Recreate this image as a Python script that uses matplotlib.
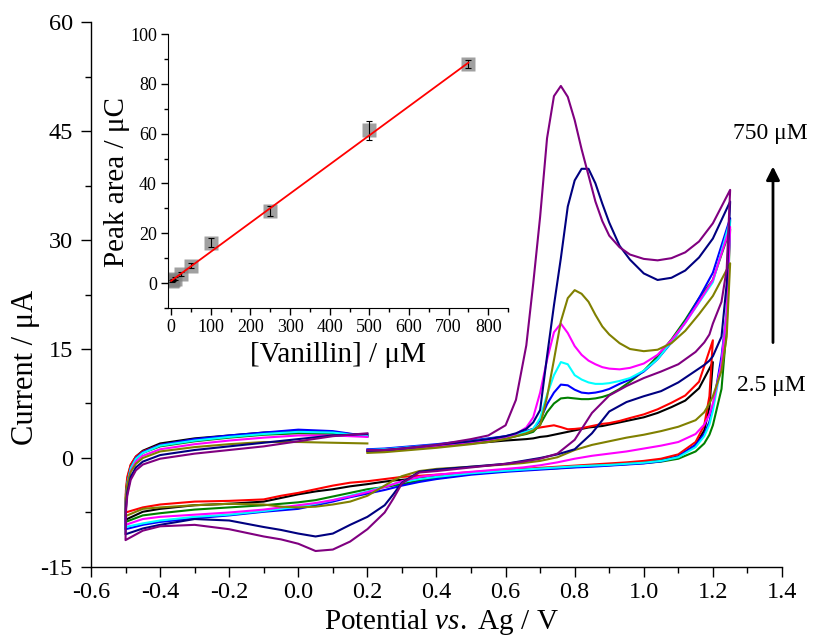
import matplotlib
matplotlib.use("Agg")
import matplotlib.pyplot as plt
import numpy as np
from matplotlib.ticker import MultipleLocator, FormatStrFormatter

plt.rcParams["font.family"] = ["Liberation Serif", "DejaVu Serif"]
plt.rcParams["mathtext.fontset"] = "custom"
plt.rcParams["mathtext.rm"] = "Liberation Serif"
plt.rcParams["mathtext.it"] = "Liberation Serif:italic"
plt.rcParams["axes.unicode_minus"] = False

# ---- CV data (potential grids shared, currents per concentration) ----
nan = np.nan
# forward scan after the break at 0.2 V, up to the vertex
E_fwd = [0.2, 0.25, 0.3, 0.4, 0.5, 0.55, 0.6, 0.63, 0.66, 0.68, 0.70, 0.72, 0.74,
         0.76, 0.78, 0.80, 0.82, 0.84, 0.86, 0.88, 0.90, 0.93, 0.96, 1.0, 1.04,
         1.08, 1.12, 1.16, 1.2, 1.25]
# reverse scan from the vertex down to -0.5 V
E_rev = [1.25, 1.24, 1.225, 1.2, 1.19, 1.175, 1.15, 1.1, 1.05, 1.0, 0.95, 0.9,
         0.85, 0.8, 0.75, 0.7, 0.65, 0.6, 0.5, 0.4, 0.35, 0.3, 0.275, 0.25, 0.2,
         0.15, 0.1, 0.05, 0.0, -0.05, -0.1, -0.2, -0.3, -0.4, -0.45, -0.5]
# forward scan from -0.5 V up to the break at 0.2 V
E_low = [-0.499, -0.495, -0.485, -0.47, -0.45, -0.4, -0.3, -0.2, -0.1, 0.0, 0.1, 0.2]

black_fwd = [1.0, 1.1, 1.3, 1.6, 2.0, 2.2, 2.4, 2.5, 2.6, 2.7, 2.9, 3.0, 3.2, 3.4, 3.6,
             3.8, 4.0, 4.2, 4.3, 4.4, 4.6, 4.9, 5.2, 5.6, 6.2, 7.0, 7.9, 9.6, 13.2, nan]
red_fwd = [0.9, 1.0, 1.2, 1.6, 2.0, 2.3, 2.7, 3.2, 3.7, 4.0, 4.2, 4.35, 4.5, 4.25, 3.95,
           4.0, 4.1, 4.3, 4.5, 4.7, 4.8, 5.1, 5.5, 6.0, 6.7, 7.6, 8.6, 10.5, 16.2, nan]
green_fwd = [1.0, 1.1, 1.3, 1.7, 2.1, 2.4, 2.7, 3.0, 3.3, 3.6, 4.6, 6.3, 7.5, 8.2, 8.3,
             8.2, 8.1, 8.1, 8.2, 8.4, 8.7, 9.5, 10.5, 12.0, 14.0, 16.3, 19.0, 22.0, 24.5, 31.5]
blue_fwd = [1.2, 1.3, 1.5, 1.9, 2.4, 2.7, 3.0, 3.3, 3.7, 4.0, 5.2, 7.4, 9.0, 10.1, 10.0,
            9.4, 9.0, 8.9, 9.0, 9.2, 9.5, 10.2, 10.8, 11.9, 13.6, 15.9, 18.7, 22.0, 25.5, 33.0]
cyan_fwd = [1.1, 1.2, 1.4, 1.8, 2.3, 2.6, 2.9, 3.2, 3.6, 4.0, 5.5, 8.7, 11.4, 13.2, 12.9,
            11.4, 10.8, 10.4, 10.2, 10.2, 10.3, 10.6, 11.0, 12.0, 13.6, 16.0, 18.6, 21.4, 24.2, 32.7]
magenta_fwd = [1.0, 1.1, 1.3, 1.7, 2.2, 2.5, 2.9, 3.3, 4.2, 5.6, 9.0, 13.5, 17.3, 18.5, 17.2,
               15.4, 14.2, 13.4, 12.9, 12.5, 12.3, 12.2, 12.4, 13.0, 14.2, 16.2, 18.6, 21.5, 24.5, 31.8]
olive_fwd = [0.7, 0.8, 1.0, 1.4, 1.9, 2.2, 2.6, 3.0, 3.4, 3.8, 4.5, 8.4, 13.5, 18.8, 22.0,
             23.1, 22.6, 21.5, 19.7, 18.1, 17.0, 15.8, 15.0, 14.7, 14.9, 15.8, 17.5, 19.8, 22.3, 26.8]
navy_fwd = [1.0, 1.1, 1.3, 1.8, 2.3, 2.6, 3.0, 3.4, 4.0, 4.9, 6.6, 14.0, 21.0, 27.5, 34.6,
            38.2, 39.8, 39.8, 37.8, 35.0, 32.4, 29.2, 27.3, 25.4, 24.5, 24.8, 25.8, 27.6, 30.2, 35.3]
purple_fwd = [1.1, 1.1, 1.3, 1.8, 2.6, 3.1, 4.5, 8.0, 15.5, 24.0, 33.2, 44.0, 49.8, 51.2, 49.7,
              46.5, 42.5, 38.9, 35.3, 32.6, 30.6, 29.0, 28.0, 27.4, 27.2, 27.5, 28.3, 29.8, 32.3, 36.9]

black_rev = [nan, nan, nan, nan, 7.0, 3.8, 1.8, 0.2, -0.3, -0.6, -0.8, -0.95, -1.05, -1.2,
             -1.35, -1.5, -1.65, -1.8, -2.1, -2.6, -2.8, -3.0, -3.1, -3.25, -3.6, -3.9, -4.3,
             -4.6, -5.0, -5.5, -6.0, -6.3, -6.5, -7.0, -7.4, -8.5]
red_rev = [nan, nan, nan, nan, 8.5, 4.5, 2.2, 0.5, -0.1, -0.4, -0.6, -0.75, -0.9, -1.05,
           -1.2, -1.35, -1.5, -1.65, -1.95, -2.3, -2.45, -2.6, -2.75, -2.9, -3.2, -3.4, -3.8,
           -4.3, -4.8, -5.2, -5.7, -5.9, -6.0, -6.4, -6.8, -7.5]
green_rev = [31.5, 18.0, 9.5, 4.5, 3.2, 2.0, 0.9, -0.1, -0.5, -0.7, -0.85, -1.0, -1.1, -1.25,
             -1.4, -1.5, -1.65, -1.8, -2.2, -2.8, -3.1, -3.6, -3.8, -4.0, -4.3, -4.8, -5.3,
             -5.8, -6.1, -6.3, -6.5, -6.8, -7.1, -7.6, -7.9, -8.8]
blue_rev = [33.0, 20.0, 14.0, 7.0, 5.0, 3.3, 1.8, 0.2, -0.45, -0.75, -0.9, -1.05, -1.2, -1.3,
            -1.45, -1.6, -1.75, -1.9, -2.3, -2.9, -3.3, -3.8, -4.1, -4.4, -4.9, -5.4, -6.0,
            -6.5, -7.0, -7.2, -7.4, -7.9, -8.3, -8.8, -9.2, -9.8]
cyan_rev = [32.7, 20.0, 13.0, 6.5, 4.6, 3.0, 1.5, 0.1, -0.4, -0.65, -0.8, -0.95, -1.05, -1.15,
            -1.3, -1.45, -1.6, -1.75, -2.1, -2.6, -2.9, -3.3, -3.6, -3.9, -4.6, -5.2, -5.8,
            -6.3, -6.7, -7.0, -7.3, -7.8, -8.1, -8.6, -9.0, -9.5]
magenta_rev = [31.8, 20.0, 13.0, 7.5, 6.0, 4.6, 3.3, 2.2, 1.7, 1.3, 0.9, 0.6, 0.3, -0.1,
               -0.6, -1.0, -1.3, -1.5, -1.9, -2.3, -2.6, -3.2, -3.6, -4.0, -4.7, -5.3, -5.8,
               -6.2, -6.5, -6.8, -7.1, -7.5, -7.8, -8.1, -8.4, -9.2]
olive_rev = [26.8, 16.7, 12.0, 8.5, 7.5, 6.3, 5.2, 4.3, 3.7, 3.2, 2.8, 2.3, 1.8, 1.1, 0.1,
             -0.4, -0.7, -0.9, -1.2, -1.5, -1.8, -2.5, -3.1, -3.8, -5.2, -6.0, -6.4, -6.7,
             -6.8, -6.7, -6.4, -6.3, -6.5, -6.8, -7.0, -8.0]
navy_rev = [35.3, 24.0, 16.7, 14.0, 13.4, 12.8, 12.0, 10.4, 9.2, 8.5, 7.7, 6.4, 3.4, 1.2, 0.5,
            0.0, -0.4, -0.8, -1.2, -1.6, -1.9, -3.4, -5.0, -6.5, -8.1, -9.2, -10.4, -10.8,
            -10.4, -9.9, -9.5, -8.6, -8.4, -9.2, -9.7, -10.5]
purple_rev = [36.9, 26.0, 21.5, 18.5, 17.0, 15.9, 14.6, 12.9, 11.9, 11.0, 9.9, 8.6, 6.2, 2.5,
              0.6, -0.1, -0.5, -0.8, -1.3, -1.8, -2.0, -3.5, -5.6, -7.5, -9.8, -11.5, -12.6,
              -12.8, -11.8, -11.2, -10.8, -9.8, -9.2, -9.4, -10.0, -11.3]

black_low = [-5.0, -3.0, -1.0, 0.2, 1.0, 2.0, 2.7, 3.1, 3.5, 3.7, 3.5, 3.1]
red_low = [-4.5, -2.6, -0.9, 0.2, 0.9, 1.8, 2.5, 2.9, 3.3, 3.5, 3.3, 3.0]
green_low = [-5.5, -3.4, -1.4, -0.1, 0.7, 1.6, 2.3, 2.8, 3.2, 3.4, 3.3, 3.0]
blue_low = [-6.0, -3.6, -1.4, 0.0, 0.8, 1.8, 2.6, 3.1, 3.5, 3.9, 3.7, 3.0]
cyan_low = [-5.8, -3.5, -1.4, -0.1, 0.7, 1.7, 2.4, 2.9, 3.3, 3.6, 3.5, 3.0]
magenta_low = [-5.8, -3.7, -1.8, -0.5, 0.3, 1.2, 1.9, 2.4, 2.8, 3.1, 3.1, 2.9]
olive_low = [-5.5, -3.6, -1.9, -0.8, 0.0, 0.9, 1.5, 1.9, 2.2, 2.2, 2.1, 2.0]
navy_low = [-7.0, -4.8, -2.6, -1.3, -0.5, 0.4, 1.1, 1.6, 2.1, 2.6, 3.1, 3.3]
purple_low = [-7.5, -5.2, -3.0, -1.7, -0.9, -0.1, 0.6, 1.1, 1.6, 2.3, 3.0, 3.4]

curves = [
    ("black", black_fwd, black_rev, black_low),
    ("red", red_fwd, red_rev, red_low),
    ("green", green_fwd, green_rev, green_low),
    ("blue", blue_fwd, blue_rev, blue_low),
    ("cyan", cyan_fwd, cyan_rev, cyan_low),
    ("magenta", magenta_fwd, magenta_rev, magenta_low),
    ("olive", olive_fwd, olive_rev, olive_low),
    ("navy", navy_fwd, navy_rev, navy_low),
    ("purple", purple_fwd, purple_rev, purple_low),
]
line_colors = {"black": "#000000", "red": "#FF0000", "green": "#008000",
               "blue": "#0000FF", "cyan": "#00FFFF", "magenta": "#FF00FF",
               "olive": "#808000", "navy": "#000080", "purple": "#800080"}

# ---- calibration inset data ----
conc = [2.5, 5, 10, 25, 50, 100, 250, 500, 750]
area = [0.8, 1.2, 1.8, 3.6, 6.9, 16.3, 29.0, 61.3, 88.0]
area_err = [0.5, 0.5, 0.6, 0.8, 1.0, 1.8, 2.0, 3.8, 1.5]
fit_x = [0, 750]
fit_y = [0.9, 88.5]

fig = plt.figure(figsize=(8.16, 6.38), dpi=100)
ax = fig.add_axes([0.1115, 0.1113, 0.8468, 0.8542])

for name, fwd, rev, low in curves:
    E = np.r_[E_fwd, E_rev, E_low]
    cur = np.r_[fwd, rev, low]
    ok = ~np.isnan(cur)
    ax.plot(E[ok], cur[ok], color=line_colors[name], lw=1.5)

ax.set_xlim(-0.6, 1.4)
ax.set_ylim(-15, 60)
ax.xaxis.set_major_locator(MultipleLocator(0.2))
ax.xaxis.set_minor_locator(MultipleLocator(0.1))
ax.xaxis.set_major_formatter(FormatStrFormatter("%.1f"))
ax.yaxis.set_major_locator(MultipleLocator(15))
ax.yaxis.set_minor_locator(MultipleLocator(7.5))
ax.spines[["top", "right"]].set_visible(False)
for s in ("left", "bottom"):
    ax.spines[s].set_linewidth(1.0)
ax.tick_params(which="major", direction="out", length=7, width=1, labelsize=17.5)
ax.tick_params(axis="x", which="major", pad=4)
ax.tick_params(axis="y", which="major", pad=6)
ax.tick_params(which="minor", direction="out", length=4, width=1)
ax.set_xlabel("Potential $\\mathit{vs.}$ Ag / V", fontsize=21)
ax.set_ylabel("Current / μA", fontsize=22)
ax.xaxis.set_label_coords(0.507, -0.073)
ax.yaxis.set_label_coords(-0.074, 0.367)

ax.annotate("", xy=(1.374, 40.5), xytext=(1.374, 15.5),
            arrowprops=dict(arrowstyle="-|>", lw=2, color="black", mutation_scale=20),
            annotation_clip=False)
ax.text(1.365, 44.6, "750 μM", ha="center", va="center", fontsize=17, clip_on=False)
ax.text(1.37, 10.0, "2.5 μM", ha="center", va="center", fontsize=17, clip_on=False)

# ---- inset ----
ins = fig.add_axes([0.2059, 0.5172, 0.4167, 0.4295])
ins.errorbar(conc, area, yerr=area_err, fmt="none", ecolor="black", elinewidth=0.8,
             capsize=2, capthick=0.8, zorder=3)
ins.plot(conc, area, "s", color="#808080", alpha=0.75, markersize=9.5, mec="none", zorder=2)
ins.plot(fit_x, fit_y, color="red", lw=1.3, zorder=4)
ins.set_xlim(-8, 850)
ins.set_ylim(-10, 100)
ins.xaxis.set_major_locator(MultipleLocator(100))
ins.xaxis.set_minor_locator(MultipleLocator(50))
ins.yaxis.set_major_locator(MultipleLocator(20))
ins.yaxis.set_minor_locator(MultipleLocator(10))
ins.spines[["top", "right"]].set_visible(False)
ins.tick_params(which="major", direction="out", length=5, width=1, labelsize=13, pad=3)
ins.tick_params(which="minor", direction="out", length=3, width=1)
ins.set_xlabel("[Vanillin] / μM", fontsize=21)
ins.set_ylabel("Peak area / μC", fontsize=21)
ins.xaxis.set_label_coords(0.5, -0.125)
ins.yaxis.set_label_coords(-0.112, 0.46)
ins.patch.set_alpha(0)

fig.savefig("out.png", dpi=100)
